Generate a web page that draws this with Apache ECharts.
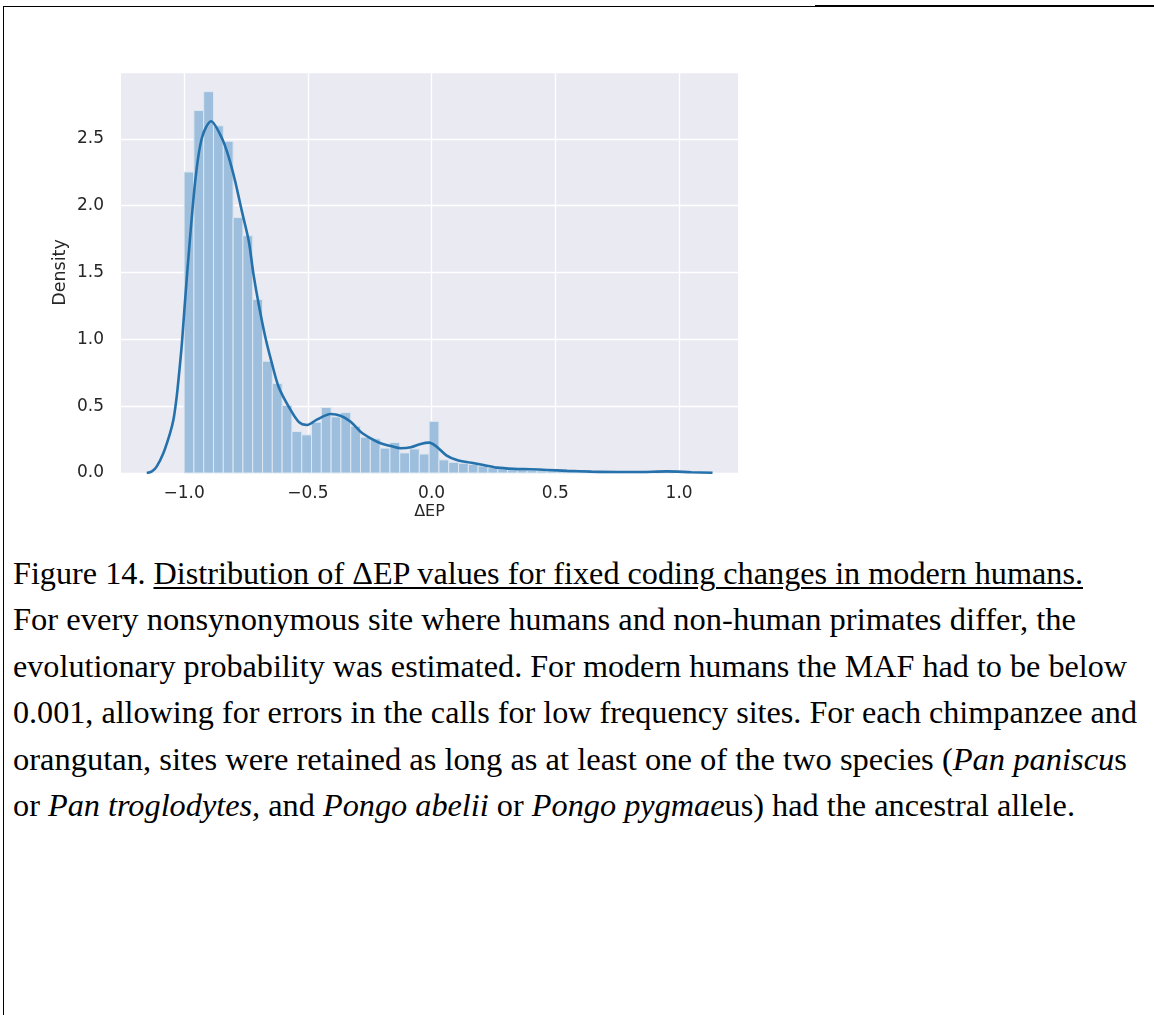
<!DOCTYPE html>
<html>
<head>
<meta charset="utf-8">
<script src="https://cdn.jsdelivr.net/npm/echarts@6/dist/echarts.min.js"></script>
<style>
  html, body { margin: 0; padding: 0; background: #ffffff; }
  body { width: 1154px; height: 1015px; position: relative; overflow: hidden; }
  #chart { position: absolute; left: 0; top: 0; width: 1154px; height: 540px; }
  .bt1 { position: absolute; left: 3px; top: 6px; width: 812px; height: 0; border-top: 1.5px solid #000; z-index: 5; }
  .bt2 { position: absolute; left: 815px; top: 5px; width: 339px; height: 0; border-top: 2.5px solid #000; z-index: 5; }
  .bl { position: absolute; left: 3px; top: 6px; width: 0; height: 1009px; border-left: 1.5px solid #000; z-index: 5; }
  #caption { position: absolute; left: 13px; top: 551px; font-family: "Liberation Serif", "Times New Roman", serif;
             font-size: 31px; color: #000; white-space: nowrap; z-index: 4; }
  #caption .ln { height: 46.4px; line-height: 46.4px; transform-origin: 0 50%; }
  #caption u { text-decoration-thickness: 1.5px; text-underline-offset: 3px; }
</style>
</head>
<body>
<div id="chart"></div>
<div class="bt1"></div><div class="bt2"></div><div class="bl"></div>
<div id="caption">
  <div class="ln" data-w="1070">Figure 14. <u>Distribution of ΔEP values for fixed coding changes in modern humans.</u></div>
  <div class="ln" data-w="1063">For every nonsynonymous site where humans and non-human primates differ, the</div>
  <div class="ln" data-w="1114">evolutionary probability was estimated. For modern humans the MAF had to be below</div>
  <div class="ln" data-w="1124">0.001, allowing for errors in the calls for low frequency sites. For each chimpanzee and</div>
  <div class="ln" data-w="1114">orangutan, sites were retained as long as at least one of the two species (<i>Pan paniscu</i>s</div>
  <div class="ln" data-w="1062">or <i>Pan troglodytes,</i> and <i>Pongo abelii</i> or <i>Pongo pygmae</i>us) had the ancestral allele.</div>
</div>
<script>
// ---- data ----
const binStart = -1.0;
const binWidth = 0.0396;
const histDensity = [
  2.252, 2.712, 2.853, 2.597, 2.481, 1.911, 1.775, 1.298, 0.836, 0.669,
  0.505, 0.310, 0.285, 0.380, 0.490, 0.420, 0.452, 0.350, 0.268, 0.256,
  0.186, 0.228, 0.150, 0.180, 0.142, 0.386, 0.098, 0.080, 0.073, 0.065,
  0.053, 0.040, 0.030, 0.023, 0.020, 0.018, 0.016, 0.015, 0.013, 0.011,
  0.010, 0.009, 0.008, 0.007, 0.006, 0.006, 0.005, 0.006, 0.008, 0.009
];
const kdeX = [-1.151, -1.13, -1.111, -1.084, -1.057, -1.043, -1.03, -1.02, -1.009, -0.989, -0.955,
  -0.928, -0.891, -0.848, -0.821, -0.794, -0.767, -0.739, -0.72, -0.699, -0.672,
  -0.645, -0.618, -0.577, -0.537, -0.503, -0.462, -0.408, -0.368, -0.327, -0.287,
  -0.246, -0.206, -0.165, -0.125, -0.084, -0.044, -0.01, 0.02, 0.061, 0.102,
  0.156, 0.21, 0.264, 0.332, 0.4, 0.467, 0.548, 0.645, 0.75, 0.85,
  0.95, 1.05, 1.135];
const kdeY = [0.0, 0.012, 0.048, 0.148, 0.297, 0.40, 0.57, 0.75, 0.968, 1.464, 2.185,
  2.508, 2.632, 2.508, 2.371, 2.185, 1.961, 1.737, 1.49, 1.266, 1.017,
  0.818, 0.644, 0.495, 0.383, 0.359, 0.401, 0.441, 0.428, 0.383, 0.309,
  0.259, 0.222, 0.202, 0.185, 0.192, 0.217, 0.227, 0.197, 0.13, 0.098,
  0.078, 0.06, 0.04, 0.031, 0.028, 0.023, 0.016, 0.01, 0.007, 0.008,
  0.012, 0.006, 0.002];
const xTicks = [-1.0, -0.5, 0.0, 0.5, 1.0];
const xName = 'ΔEP';
const yName = 'Density';

// ---- caption width fitting ----
document.querySelectorAll('#caption .ln').forEach(function (el) {
  const target = parseFloat(el.getAttribute('data-w'));
  const r = document.createRange(); r.selectNodeContents(el);
  const w = r.getBoundingClientRect().width;
  if (w > 0) el.style.transform = 'scaleX(' + (target / w) + ')';
});

// ---- chart ----
const histData = histDensity.map(function (h, i) {
  return [binStart + i * binWidth, binStart + (i + 1) * binWidth, h];
});
const kdeData = kdeX.map(function (x, i) { return [x, kdeY[i]]; });
const tickColor = '#262626';
const fmtX = function (v) {
  return v < 0 ? '\u2212' + Math.abs(v).toFixed(1) : v.toFixed(1);
};

const chart = echarts.init(document.getElementById('chart'), null, { renderer: 'canvas' });
chart.setOption({
  animation: false,
  backgroundColor: 'transparent',
  grid: { left: 121, right: 416, top: 72, bottom: 67, show: true, backgroundColor: '#eaeaf2', borderWidth: 0 },
  xAxis: {
    type: 'value', min: -1.255, max: 1.238,
    name: xName, nameLocation: 'middle', nameGap: 31, nameMoveOverlap: false,
    nameTextStyle: { fontFamily: 'DejaVu Sans', fontSize: 16, color: tickColor },
    axisLine: { show: false }, axisTick: { show: false, customValues: xTicks },
    axisLabel: { customValues: xTicks, formatter: fmtX, fontFamily: 'DejaVu Sans', fontSize: 17, color: tickColor, margin: 12 },
    splitLine: { show: true, lineStyle: { color: '#ffffff', width: 1.3 } }
  },
  yAxis: {
    type: 'value', min: 0, max: 3.0, interval: 0.5,
    name: yName, nameLocation: 'middle', nameGap: 52, nameRotate: 90, nameMoveOverlap: false,
    nameTextStyle: { fontFamily: 'DejaVu Sans', fontSize: 17.5, color: tickColor },
    axisLine: { show: false }, axisTick: { show: false },
    axisLabel: { showMaxLabel: false, formatter: function (v) { return v.toFixed(1); }, fontFamily: 'DejaVu Sans', fontSize: 17, color: tickColor, margin: 17 },
    splitLine: { show: true, lineStyle: { color: '#ffffff', width: 1.3 } }
  },
  series: [
    {
      type: 'custom',
      data: histData,
      renderItem: function (params, api) {
        const p0 = api.coord([api.value(0), 0]);
        const p1 = api.coord([api.value(1), api.value(2)]);
        return {
          type: 'rect',
          shape: { x: p0[0], y: p1[1], width: p1[0] - p0[0], height: p0[1] - p1[1] },
          style: { fill: '#9dbfdd', stroke: '#dde7f1', lineWidth: 1 }
        };
      },
      encode: { x: [0, 1], y: 2 },
      z: 2
    },
    {
      type: 'line',
      data: kdeData,
      smooth: 0.3,
      showSymbol: false,
      lineStyle: { color: '#2571ab', width: 2.6 },
      z: 3
    }
  ]
});
</script>
</body>
</html>
